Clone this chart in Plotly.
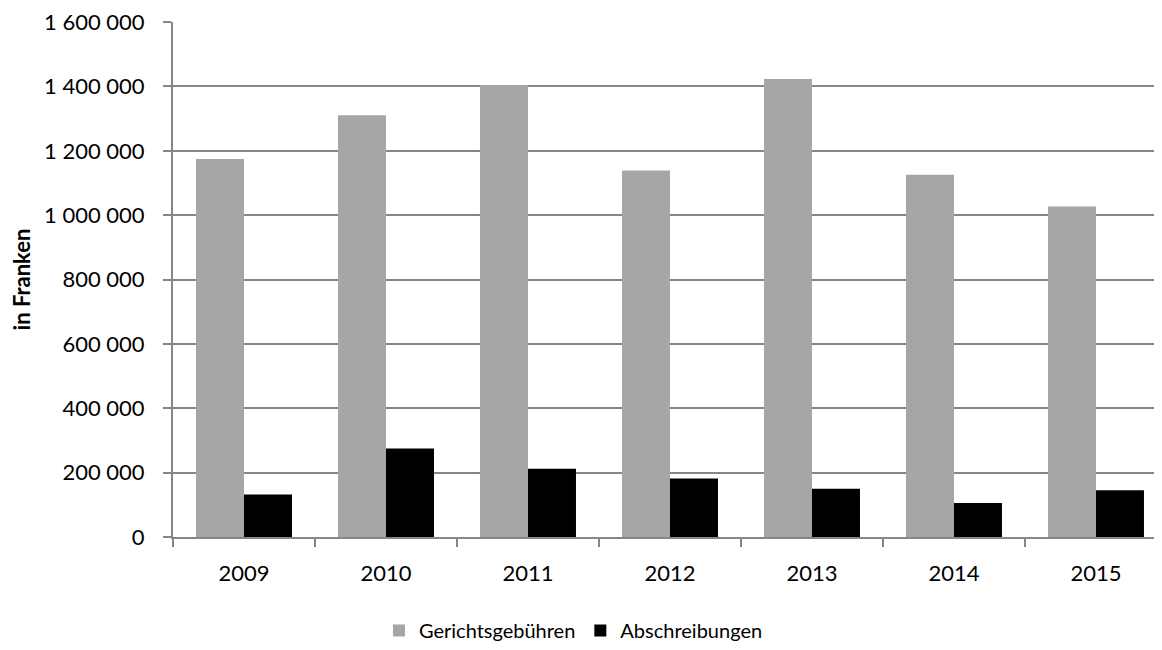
import plotly.graph_objects as go

years = ["2009", "2010", "2011", "2012", "2013", "2014", "2015"]
gerichtsgebuehren = [1175000, 1311000, 1405000, 1139000, 1423000, 1126000, 1027000]
abschreibungen = [132000, 275000, 212000, 182000, 150000, 106000, 145000]
y_tickvals = [0, 200000, 400000, 600000, 800000, 1000000, 1200000, 1400000, 1600000]
y_ticktext = ["0", "200 000", "400 000", "600 000", "800 000", "1 000 000",
              "1 200 000", "1 400 000", "1 600 000"]

FONT = "Lato"
GRID = "#868686"

fig = go.Figure()
fig.add_trace(go.Bar(x=years, y=gerichtsgebuehren, name="Gerichtsgebühren",
                     marker=dict(color="#A6A6A6", line=dict(width=0))))
fig.add_trace(go.Bar(x=years, y=abschreibungen, name="Abschreibungen",
                     marker=dict(color="#000000", line=dict(width=0))))

fig.update_layout(
    width=1154, height=642,
    margin=dict(l=165, r=0, t=14, b=113),
    paper_bgcolor="white", plot_bgcolor="white",
    barmode="group", bargap=0.324, bargroupgap=0,
    font=dict(family=FONT, size=22, color="#000000"),
    showlegend=True,
    legend=dict(orientation="h", x=0.49, xref="container", xanchor="center",
                y=15, yref="container", yanchor="bottom",
                font=dict(family=FONT, size=20, color="#000000"),
                itemwidth=30, traceorder="normal"),
    xaxis=dict(type="category", range=[-0.5, 6.465], showgrid=False,
               showline=True, linecolor=GRID, linewidth=2,
               ticks="outside", ticklen=8, tickwidth=2, tickcolor=GRID,
               tickson="boundaries", ticklabelstandoff=16,
               tickfont=dict(family=FONT, size=22, color="#000000")),
    yaxis=dict(range=[0, 1600400], tickvals=y_tickvals, ticktext=y_ticktext,
               showgrid=True, gridcolor=GRID, gridwidth=2,
               showline=True, linecolor=GRID, linewidth=2, zeroline=False,
               ticks="outside", ticklen=8, tickwidth=2, tickcolor=GRID,
               ticklabelstandoff=14, ticklabeloverflow="allow",
               tickfont=dict(family=FONT, size=22, color="#000000"),
               title=dict(text="<b>in Franken</b>", standoff=14,
                          font=dict(family=FONT, size=22, color="#000000"))),
)

fig.write_html("out.html")
